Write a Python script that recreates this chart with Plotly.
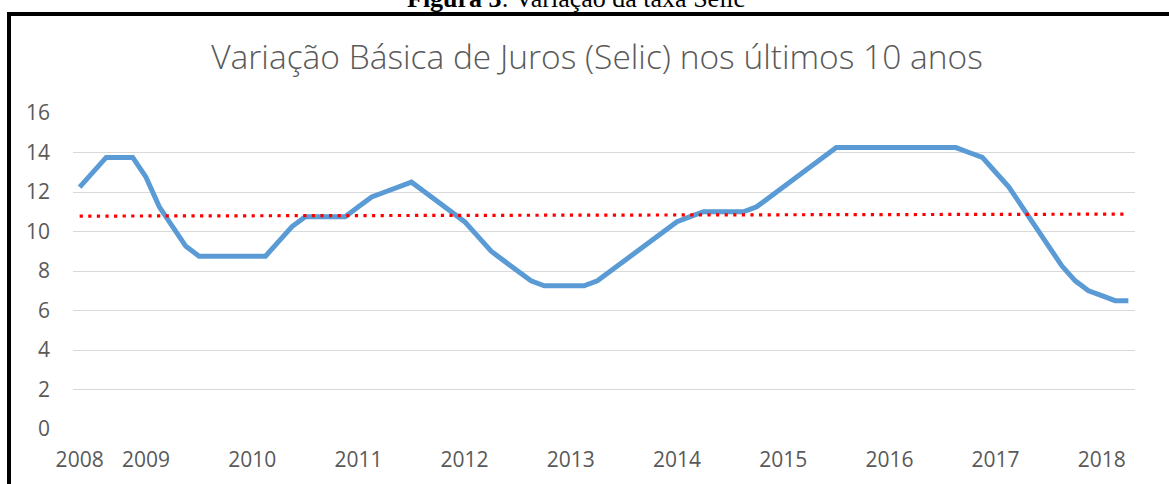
import plotly.graph_objects as go

# Copom meetings (year-month) and Selic target rate (% a.a.)
meetings = [
    "2008-06", "2008-07", "2008-09", "2008-10", "2008-12",
    "2009-01", "2009-03", "2009-04", "2009-06", "2009-07", "2009-09", "2009-10", "2009-12",
    "2010-01", "2010-03", "2010-04", "2010-06", "2010-07", "2010-09", "2010-10", "2010-12",
    "2011-01", "2011-03", "2011-04", "2011-06", "2011-07", "2011-08", "2011-10", "2011-11",
    "2012-01", "2012-03", "2012-04", "2012-05", "2012-07", "2012-08", "2012-10", "2012-11",
    "2013-01", "2013-03", "2013-04", "2013-05", "2013-07", "2013-08", "2013-10", "2013-11",
    "2014-01", "2014-02", "2014-04", "2014-05", "2014-07", "2014-09", "2014-10", "2014-12",
    "2015-01", "2015-03", "2015-04", "2015-06", "2015-07", "2015-09", "2015-10", "2015-11",
    "2016-01", "2016-03", "2016-04", "2016-06", "2016-07", "2016-08", "2016-10", "2016-11",
    "2017-01", "2017-02", "2017-04", "2017-05", "2017-07", "2017-09", "2017-10", "2017-12",
    "2018-02", "2018-03", "2018-05",
]
selic = [
    12.25, 13.00, 13.75, 13.75, 13.75,
    12.75, 11.25, 10.25, 9.25, 8.75, 8.75, 8.75, 8.75,
    8.75, 8.75, 9.50, 10.25, 10.75, 10.75, 10.75, 10.75,
    11.25, 11.75, 12.00, 12.25, 12.50, 12.00, 11.50, 11.00,
    10.50, 9.75, 9.00, 8.50, 8.00, 7.50, 7.25, 7.25,
    7.25, 7.25, 7.50, 8.00, 8.50, 9.00, 9.50, 10.00,
    10.50, 10.75, 11.00, 11.00, 11.00, 11.00, 11.25, 11.75,
    12.25, 12.75, 13.25, 13.75, 14.25, 14.25, 14.25, 14.25,
    14.25, 14.25, 14.25, 14.25, 14.25, 14.25, 14.00, 13.75,
    13.00, 12.25, 11.25, 10.25, 9.25, 8.25, 7.50, 7.00,
    6.75, 6.50, 6.50,
]
# Trend line at first and last meeting
trend_x = [meetings[0], meetings[-1]]
trend_values = [10.78, 10.88]

y_ticks = [0, 2, 4, 6, 8, 10, 12, 14, 16]

title_text = "Variação Básica de Juros (Selic) nos últimos 10 anos"
caption_text = "<b>Figura 3</b>: Variação da taxa Selic"

# Year labels at the first meeting of each year
tick_vals, tick_text = [], []
for m in meetings:
    yr = m[:4]
    if yr not in tick_text:
        tick_vals.append(m)
        tick_text.append(yr)

W, H = 1169, 484
L, R, T, B = 73, 34, 113, 55
pw, ph = W - L - R, H - T - B


def px_x(p):
    return (p - L) / pw


def px_y(p):
    return (H - B - p) / ph


fig = go.Figure()
fig.add_trace(go.Scatter(
    x=meetings, y=selic, mode="lines",
    line=dict(color="#5B9BD5", width=5),
    hoverinfo="x+y", showlegend=False,
))
fig.add_trace(go.Scatter(
    x=trend_x, y=trend_values, mode="lines",
    line=dict(color="#FF0000", width=3.2, dash="3.2px,5.4px"),
    hoverinfo="skip", showlegend=False,
))

fig.update_layout(
    width=W, height=H,
    margin=dict(l=L, r=R, t=T, b=B, pad=0),
    paper_bgcolor="white", plot_bgcolor="white",
    font=dict(family="Open Sans", color="#595959", size=21),
    title=dict(
        text=title_text, x=597 / W, xanchor="center",
        y=1 - 57 / H, yanchor="middle", xref="container", yref="container",
        font=dict(family="Open Sans", size=33.5, color="#595959", weight=300),
    ),
    xaxis=dict(
        type="category", categoryorder="array", categoryarray=meetings,
        range=[-0.5, len(meetings) - 0.5],
        tickmode="array", tickvals=tick_vals, ticktext=tick_text,
        showgrid=False, zeroline=False, showline=False, ticks="",
        ticklabelstandoff=16,
        tickfont=dict(size=21, color="#595959"),
        fixedrange=True,
    ),
    yaxis=dict(
        range=[0, 16], tickmode="array", tickvals=y_ticks,
        showgrid=True, gridcolor="#D9D9D9", gridwidth=1,
        zeroline=False, showline=False, ticks="",
        ticklabelstandoff=22,
        tickfont=dict(size=21, color="#595959"),
        fixedrange=True,
    ),
    shapes=[
        dict(type="rect", xref="paper", yref="paper",
             x0=px_x(9), x1=px_x(W + 20), y0=px_y(H + 20), y1=px_y(14),
             line=dict(color="black", width=4), fillcolor="rgba(0,0,0,0)",
             layer="above"),
    ],
    annotations=[
        dict(text=caption_text, xref="paper", yref="paper",
             x=px_x(576), y=px_y(-2), xanchor="center", yanchor="middle",
             showarrow=False,
             font=dict(family="Liberation Serif", size=26, color="black")),
    ],
)

fig.write_html(
    "out.html",
    config={"displayModeBar": False},
    post_script="document.body.style.margin='0';document.body.style.overflow='hidden';",
)
